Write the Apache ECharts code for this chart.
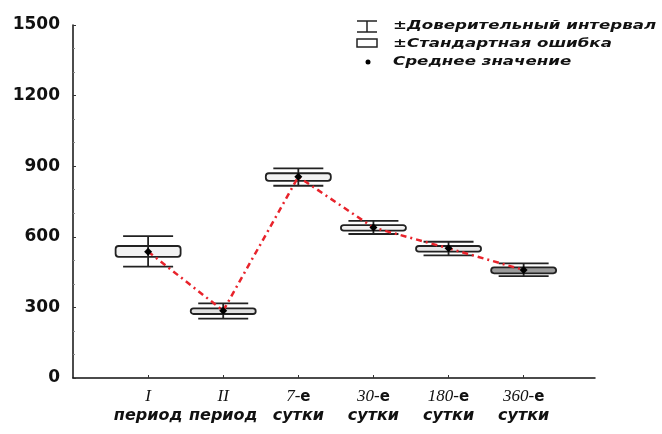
<!DOCTYPE html>
<html><head><meta charset="utf-8">
<script src="https://cdn.jsdelivr.net/npm/echarts@6/dist/echarts.min.js"></script>
<style>html,body{margin:0;padding:0;background:#fff}#c{width:662px;height:434px}</style>
</head><body><div id="c"></div>
<script>
const catTop = ['I', 'II', '7-', '30-', '180-', '360-'];
const catTopBold = ['', '', 'е', 'е', 'е', 'е'];
const catBottom = ['период', 'период', 'сутки', 'сутки', 'сутки', 'сутки'];
const means = [537, 286, 855, 639, 551, 459];
const seLow = [515, 272, 838, 626, 537, 445];
const seHigh = [561, 296, 870, 650, 561, 470];
const ciLow = [473, 252, 817, 612, 521, 433];
const ciHigh = [603, 317, 891, 668, 579, 487];
const yTicks = [0, 300, 600, 900, 1200, 1500];
const legendTexts = ['±Доверительный интервал', '±Стандартная ошибка', 'Среднее значение'];

const chart = echarts.init(document.getElementById('c'));
const boxData = means.map((m, i) => [i + 1, seLow[i], seHigh[i], ciLow[i], ciHigh[i]]);
const lineData = means.map((m, i) => [i + 1, m]);
const boxFills = ['#f2f2f2', '#e0e0e0', '#f2f2f2', '#f2f2f2', '#e6e6e6', '#9c9c9c'];

const legendFont = 'bold italic 13px "DejaVu Sans"';
chart.setOption({
  animation: false,
  backgroundColor: '#fff',
  grid: { left: 73, right: 67, top: 25, bottom: 56 },
  xAxis: {
    type: 'value', min: 0, max: 6.95, interval: 1,
    axisLine: { lineStyle: { color: '#111', width: 1.5 } },
    splitLine: { show: false },
    axisTick: { show: true, inside: true, length: 3, customValues: [1, 2, 3, 4, 5, 6], lineStyle: { color: '#333' } },
    axisLabel: {
      customValues: [1, 2, 3, 4, 5, 6],
      margin: 10,
      formatter: v => {
        const i = Math.round(v) - 1;
        if (i < 0 || i >= catTop.length) return '';
        let s = '{a|' + catTop[i] + '}';
        if (catTopBold[i]) s += '{b|' + catTopBold[i] + '}';
        return s + '\n{c|' + catBottom[i] + '}';
      },
      rich: {
        a: { fontFamily: 'Liberation Serif', fontStyle: 'italic', fontSize: 17, color: '#111', lineHeight: 18 },
        b: { fontFamily: 'DejaVu Sans', fontWeight: 'bold', fontSize: 15, color: '#111', lineHeight: 18 },
        c: { fontFamily: 'DejaVu Sans', fontWeight: 'bold', fontStyle: 'italic', fontSize: 16, color: '#111', lineHeight: 19 }
      }
    }
  },
  yAxis: {
    type: 'value', min: 0, max: 1500, interval: 300,
    axisLine: { show: true, lineStyle: { color: '#111', width: 1.5 } },
    splitLine: { show: false },
    axisTick: { show: true, inside: true, length: 3, lineStyle: { color: '#333' } },
    minorTick: { show: true, splitNumber: 3, length: 2, lineStyle: { color: '#888' } },
    axisLabel: {
      margin: 13, color: '#111', fontFamily: 'DejaVu Sans', fontWeight: 'bold', fontSize: 17,
      formatter: v => yTicks.indexOf(v) >= 0 ? String(v) : ''
    }
  },
  series: [
    {
      type: 'custom',
      data: boxData,
      encode: { x: 0, y: [1, 2, 3, 4] },
      z: 2,
      renderItem: (params, api) => {
        const x = api.value(0);
        const pLo = api.coord([x, api.value(1)]);
        const pHi = api.coord([x, api.value(2)]);
        const cLo = api.coord([x, api.value(3)]);
        const cHi = api.coord([x, api.value(4)]);
        const bw = 65, ww = 50;
        const cx = pLo[0];
        const ls = { stroke: '#222', lineWidth: 1.8 };
        return {
          type: 'group',
          children: [
            { type: 'line', shape: { x1: cx, y1: cLo[1], x2: cx, y2: cHi[1] }, style: ls },
            { type: 'line', shape: { x1: cx - ww / 2, y1: cHi[1], x2: cx + ww / 2, y2: cHi[1] }, style: ls },
            { type: 'line', shape: { x1: cx - ww / 2, y1: cLo[1], x2: cx + ww / 2, y2: cLo[1] }, style: ls },
            { type: 'rect', shape: { x: cx - bw / 2, y: pHi[1], width: bw, height: pLo[1] - pHi[1], r: 3 },
              style: { fill: boxFills[params.dataIndex], stroke: '#222', lineWidth: 1.8 } },
            { type: 'line', shape: { x1: cx, y1: pLo[1], x2: cx, y2: pHi[1] }, style: ls }
          ]
        };
      }
    },
    {
      type: 'line',
      data: lineData,
      z: 3,
      symbol: 'diamond', symbolSize: 8,
      itemStyle: { color: '#000' },
      lineStyle: { color: '#e8232b', width: 2.5, type: [6, 4, 2, 4] }
    }
  ],
  graphic: [
    { type: 'line', shape: { x1: 357, y1: 21, x2: 377, y2: 21 }, style: { stroke: '#222', lineWidth: 1.5 } },
    { type: 'line', shape: { x1: 357, y1: 32, x2: 377, y2: 32 }, style: { stroke: '#222', lineWidth: 1.5 } },
    { type: 'line', shape: { x1: 367, y1: 21, x2: 367, y2: 32 }, style: { stroke: '#222', lineWidth: 1.5 } },
    { type: 'rect', shape: { x: 357, y: 39, width: 20, height: 8 }, style: { fill: '#fff', stroke: '#222', lineWidth: 1.5 } },
    { type: 'circle', shape: { cx: 368, cy: 62, r: 2.5 }, style: { fill: '#000' } },
    { type: 'text', x: 393, y: 26, scaleX: 1.28, style: { text: legendTexts[0], font: legendFont, fill: '#111', verticalAlign: 'middle' } },
    { type: 'text', x: 393, y: 44, scaleX: 1.28, style: { text: legendTexts[1], font: legendFont, fill: '#111', verticalAlign: 'middle' } },
    { type: 'text', x: 393, y: 62, scaleX: 1.28, style: { text: legendTexts[2], font: legendFont, fill: '#111', verticalAlign: 'middle' } }
  ]
});
</script>
</body></html>
